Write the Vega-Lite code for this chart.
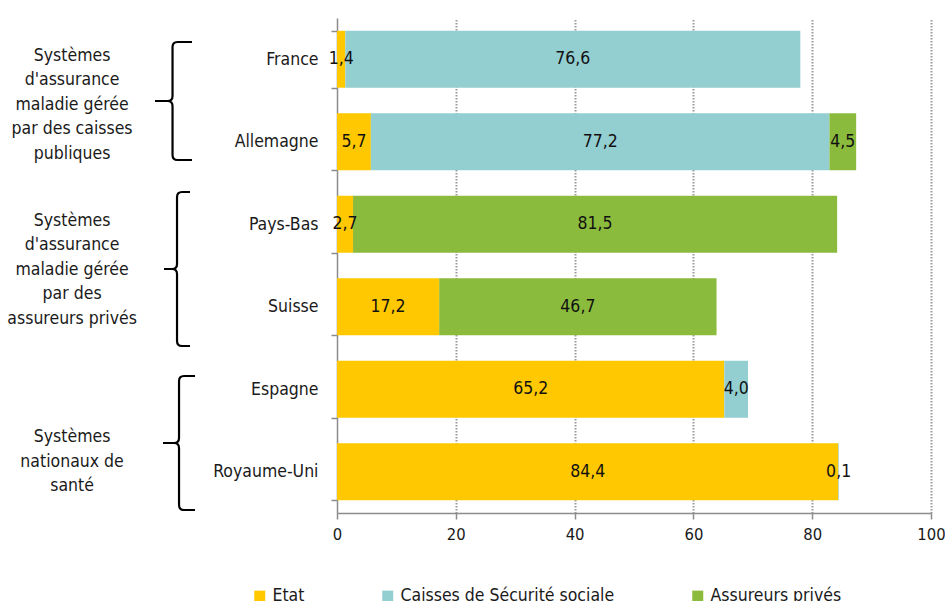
{
  "$schema": "https://vega.github.io/schema/vega-lite/v6.json",
  "width": 594,
  "height": 495,
  "autosize": {"type": "none"},
  "padding": {"left": 337, "top": 18, "right": 14, "bottom": 88},
  "background": "white",
  "config": {
    "font": "DejaVu Sans Condensed, DejaVu Sans, sans-serif",
    "view": {"stroke": null},
    "locale": {"number": {"decimal": ",", "thousands": " ", "grouping": [3], "currency": ["", " €"]}}
  },
  "datasets": {
    "valeurs": [
      {"pays": "France", "serie": "Etat", "valeur": 1.4},
      {"pays": "France", "serie": "Caisses de Sécurité sociale", "valeur": 76.6},
      {"pays": "Allemagne", "serie": "Etat", "valeur": 5.7},
      {"pays": "Allemagne", "serie": "Caisses de Sécurité sociale", "valeur": 77.2},
      {"pays": "Allemagne", "serie": "Assureurs privés", "valeur": 4.5},
      {"pays": "Pays-Bas", "serie": "Etat", "valeur": 2.7},
      {"pays": "Pays-Bas", "serie": "Assureurs privés", "valeur": 81.5},
      {"pays": "Suisse", "serie": "Etat", "valeur": 17.2},
      {"pays": "Suisse", "serie": "Assureurs privés", "valeur": 46.7},
      {"pays": "Espagne", "serie": "Etat", "valeur": 65.2},
      {"pays": "Espagne", "serie": "Caisses de Sécurité sociale", "valeur": 4.0},
      {"pays": "Royaume-Uni", "serie": "Etat", "valeur": 84.4},
      {"pays": "Royaume-Uni", "serie": "Caisses de Sécurité sociale", "valeur": 0.1}
    ],
    "groupes": [
      {"id": "A", "libelle": "Systèmes\nd'assurance\nmaladie gérée\npar des caisses\npubliques"},
      {"id": "B", "libelle": "Systèmes\nd'assurance\nmaladie gérée\npar des\nassureurs privés"},
      {"id": "C", "libelle": "Systèmes\nnationaux de\nsanté"}
    ]
  },
  "layer": [
    {
      "data": {"name": "valeurs"},
      "transform": [
        {"calculate": "indexof(['Etat','Caisses de Sécurité sociale','Assureurs privés'], datum.serie)", "as": "rang"}
      ],
      "encoding": {
        "y": {
          "field": "pays",
          "type": "nominal",
          "sort": ["France", "Allemagne", "Pays-Bas", "Suisse", "Espagne", "Royaume-Uni"],
          "scale": {"paddingInner": 0.31, "paddingOuter": 0.155},
          "axis": {
            "title": null,
            "labelFontSize": 17.5,
            "labelColor": "#1a1a1a",
            "labelPadding": 13,
            "tickSize": 6,
            "tickBand": "extent",
            "domainColor": "#8c8c8c",
            "tickColor": "#8c8c8c",
            "domainWidth": 1.5,
            "tickWidth": 1.5,
            "grid": false
          }
        },
        "x": {
          "field": "valeur",
          "type": "quantitative",
          "stack": "zero",
          "scale": {"domain": [0, 100], "nice": false},
          "axis": {
            "title": null,
            "values": [0, 20, 40, 60, 80, 100],
            "format": "d",
            "labelFlush": false,
            "labelFontSize": 16.5,
            "labelColor": "#1a1a1a",
            "labelPadding": 7,
            "tickSize": 6,
            "domainColor": "#8c8c8c",
            "tickColor": "#8c8c8c",
            "domainWidth": 1.5,
            "tickWidth": 1.5,
            "grid": true,
            "gridDash": [1.5, 1.5],
            "gridWidth": 2,
            "gridColor": {"condition": {"test": "datum.value === 0", "value": "transparent"}, "value": "#9a9a9a"}
          }
        },
        "order": {"field": "rang", "type": "quantitative"}
      },
      "layer": [
        {
          "mark": {"type": "bar"},
          "encoding": {
            "color": {
              "field": "serie",
              "type": "nominal",
              "scale": {
                "domain": ["Etat", "Caisses de Sécurité sociale", "Assureurs privés"],
                "range": ["#FFC800", "#93CED1", "#8BBB3D"]
              },
              "legend": {
                "orient": "none",
                "legendX": -86,
                "legendY": 569,
                "direction": "horizontal",
                "title": null,
                "symbolType": "square",
                "symbolSize": 121,
                "symbolStrokeWidth": 0,
                "labelFontSize": 17.5,
                "labelColor": "#1a1a1a",
                "labelOffset": 4,
                "labelLimit": 0,
                "columnPadding": 74
              }
            }
          }
        },
        {
          "mark": {"type": "text", "fontSize": 17.5, "color": "#111111", "align": "center", "baseline": "middle"},
          "encoding": {
            "x": {"field": "valeur", "type": "quantitative", "stack": "zero", "bandPosition": 0.5},
            "detail": {"field": "serie"},
            "text": {"field": "valeur", "type": "quantitative", "format": ".1f"}
          }
        }
      ]
    },
    {
      "data": {"name": "groupes"},
      "encoding": {
        "y": {"field": "id", "type": "nominal", "sort": null, "scale": {"paddingInner": 0, "paddingOuter": 0}, "axis": null}
      },
      "layer": [
        {
          "mark": {"type": "point", "filled": false, "stroke": "black", "strokeWidth": 2.2, "opacity": 1, "size": 40000},
          "encoding": {
            "x": {"datum": -27.1, "type": "quantitative"},
            "shape": {
              "field": "id",
              "type": "nominal",
              "legend": null,
              "scale": {
                "domain": ["A", "B", "C"],
                "range": [
                  "M 0.16 -0.585 L 0.015 -0.585 Q -0.035 -0.585 -0.035 -0.535 L -0.035 -0.045 Q -0.035 0.005 -0.085 0.005 L -0.21 0.005 M -0.085 0.005 Q -0.035 0.005 -0.035 0.055 L -0.035 0.545 Q -0.035 0.595 0.015 0.595 L 0.16 0.595",
                  "M 0.14 -0.735 L 0.06 -0.735 Q 0.01 -0.735 0.01 -0.685 L 0.01 -0.015 Q 0.01 0.035 -0.04 0.035 L -0.12 0.035 M -0.04 0.035 Q 0.01 0.035 0.01 0.085 L 0.01 0.755 Q 0.01 0.805 0.06 0.805 L 0.14 0.805",
                  "M 0.19 -0.545 L 0.08 -0.545 Q 0.03 -0.545 0.03 -0.495 L 0.03 0.075 Q 0.03 0.125 -0.02 0.125 L -0.13 0.125 M -0.02 0.125 Q 0.03 0.125 0.03 0.175 L 0.03 0.745 Q 0.03 0.795 0.08 0.795 L 0.19 0.795"
                ]
              }
            }
          }
        },
        {
          "transform": [{"filter": "datum.id != 'C'"}],
          "mark": {"type": "text", "fontSize": 17.5, "color": "#1a1a1a", "align": "center", "baseline": "middle", "lineBreak": "\n", "lineHeight": 24.5, "dy": -45},
          "encoding": {
            "x": {"datum": -44.6, "type": "quantitative"},
            "text": {"field": "libelle"}
          }
        },
        {
          "transform": [{"filter": "datum.id == 'C'"}],
          "mark": {"type": "text", "fontSize": 17.5, "color": "#1a1a1a", "align": "center", "baseline": "middle", "lineBreak": "\n", "lineHeight": 24.5, "dy": 6.5},
          "encoding": {
            "x": {"datum": -44.6, "type": "quantitative"},
            "text": {"field": "libelle"}
          }
        }
      ]
    }
  ],
  "resolve": {"scale": {"y": "independent"}}
}
